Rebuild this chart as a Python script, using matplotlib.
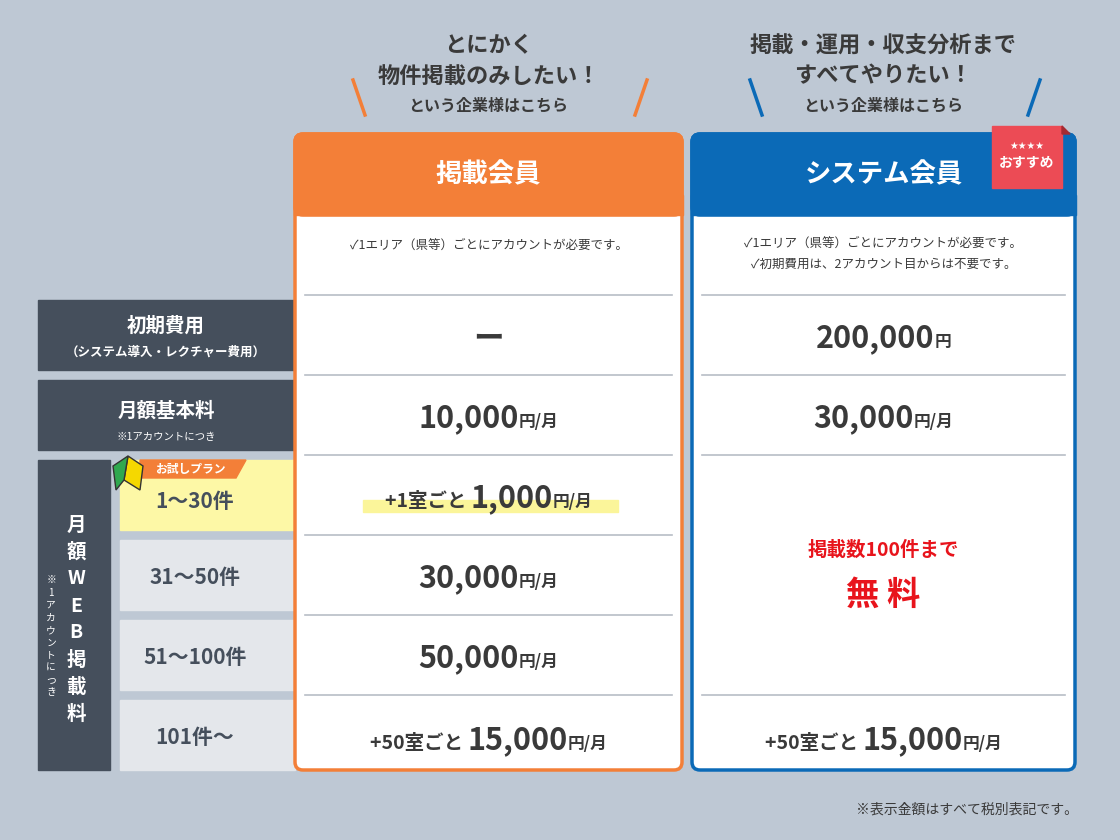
import matplotlib.pyplot as plt
from matplotlib.patches import FancyBboxPatch, Rectangle, Polygon

plt.rcParams['font.family'] = ['Noto Sans CJK JP', 'DejaVu Sans']

BG = '#bec8d4'
DARK = '#454f5c'
TXT = '#3a3a3a'
ORANGE = '#f37f38'
BLUE = '#0b6ab7'
RED = '#e8141c'

plans = ['掲載会員', 'システム会員']
plan_colors = [ORANGE, BLUE]
plan_leads = [['とにかく', '物件掲載のみしたい！', 'という企業様はこちら'],
              ['掲載・運用・収支分析まで', 'すべてやりたい！', 'という企業様はこちら']]
plan_notes = [['✓1エリア（県等）ごとにアカウントが必要です。'],
              ['✓1エリア（県等）ごとにアカウントが必要です。', '✓初期費用は、2アカウント目からは不要です。']]
tier_labels = ['1〜30件', '31〜50件', '51〜100件', '101件〜']
# (prefix, amount, unit)
member_prices = [('', 'ー', ''), ('', '10,000', '円/月'), ('+1室ごと ', '1,000', '円/月'),
                 ('', '30,000', '円/月'), ('', '50,000', '円/月'), ('+50室ごと ', '15,000', '円/月')]
system_prices = [('', '200,000', '円'), ('', '30,000', '円/月'), None, None, None,
                 ('+50室ごと ', '15,000', '円/月')]
free_text = ['掲載数100件まで', '無 料']

fig = plt.figure(figsize=(11.2, 8.4), dpi=100)
fig.patch.set_facecolor(BG)
ax = fig.add_axes([0, 0, 1, 1])
ax.set_xlim(0, 1120)
ax.set_ylim(840, 0)
ax.axis('off')
renderer = fig.canvas.get_renderer()


def rich(x, y, parts):
    # parts: (text, size, color); centred on x, on a common baseline y
    items = []
    for s, size, color in parts:
        if not s:
            continue
        t = ax.text(0, y, s, fontsize=size, color=color, fontweight='bold', va='baseline', ha='left')
        w = t.get_window_extent(renderer).width
        items.append((t, w))
    total = sum(w for _, w in items)
    cur = x - total / 2
    for t, w in items:
        t.set_x(cur)
        cur += w


# left header cells
ax.add_patch(Rectangle((38, 300), 257, 70, color=DARK))
ax.text(166, 326, '初期費用', color='white', fontsize=14, fontweight='bold', ha='center', va='center')
ax.text(166, 352, '（システム導入・レクチャー費用）', color='white', fontsize=9, fontweight='bold', ha='center', va='center')
ax.add_patch(Rectangle((38, 380), 257, 70, color=DARK))
ax.text(166, 411, '月額基本料', color='white', fontsize=14, fontweight='bold', ha='center', va='center')
ax.text(166, 437, '※1アカウントにつき', color='white', fontsize=7.5, ha='center', va='center')
ax.add_patch(Rectangle((38, 460), 72, 310, color=DARK))
for i, ch in enumerate('月額WEB掲載料'):
    ax.text(76, 525 + i * 27, ch, color='white', fontsize=14, fontweight='bold', ha='center', va='center')
for i, ch in enumerate('※1アカウントにつき'):
    ax.text(51, 580 + i * 12.5, ch, color='white', fontsize=7, ha='center', va='center')

for i, lab in enumerate(tier_labels):
    y0 = 460 + i * 80
    ax.add_patch(Rectangle((120, y0), 175, 70, color='#fdf8a6' if i == 0 else '#e4e7eb'))
    ax.text(195, y0 + 38 if i else y0 + 42, lab, color=DARK, fontsize=15, fontweight='bold', ha='center', va='center')
# trial tag + beginner mark
ax.add_patch(Polygon([(140, 460), (246, 460), (236, 478), (140, 478)], color=ORANGE))
ax.text(190, 469, 'お試しプラン', color='white', fontsize=8.5, fontweight='bold', ha='center', va='center')
ax.add_patch(Polygon([(128, 456), (143, 466), (140, 490), (124, 480)], color='#f5d800', ec='#333', lw=1))
ax.add_patch(Polygon([(128, 456), (113, 466), (116, 490), (124, 480)], color='#2fa84f', ec='#333', lw=1))

# plan cards
for k, (x0, x1) in enumerate([(295, 682), (692, 1075)]):
    c = plan_colors[k]
    ax.add_patch(FancyBboxPatch((x0, 134), x1 - x0, 636, boxstyle='round,pad=0,rounding_size=8',
                                fc='white', ec=c, lw=2.5))
    ax.add_patch(FancyBboxPatch((x0, 134), x1 - x0, 81, boxstyle='round,pad=0,rounding_size=8',
                                fc=c, ec=c, lw=2.5))
    ax.add_patch(Rectangle((x0 - 1, 195), x1 - x0 + 2, 20, color=c))
    cx = (x0 + x1) / 2
    ax.text(cx, 175, plans[k], color='white', fontsize=19, fontweight='bold', ha='center', va='center')
    notes = plan_notes[k]
    for j, n in enumerate(notes):
        ax.text(cx, 245 + j * 21 - (0 if len(notes) == 1 else 2), n, color=TXT, fontsize=9, ha='center', va='center')
    for yl in [295, 375, 455, 535, 615, 695]:
        if k == 1 and yl in (535, 615):
            continue
        ax.plot([x0 + 10, x1 - 10], [yl, yl], color='#b8bec6', lw=1.2)
    lead = plan_leads[k]
    ax.text(cx, 46, lead[0], color=TXT, fontsize=16, fontweight='bold', ha='center', va='center')
    ax.text(cx, 76, lead[1], color=TXT, fontsize=16, fontweight='bold', ha='center', va='center')
    ax.text(cx, 106, lead[2], color=TXT, fontsize=11.5, fontweight='bold', ha='center', va='center')
    ax.plot([x0 + 58, x0 + 70], [80, 115], color=c, lw=2.5)
    ax.plot([x1 - 35, x1 - 47], [80, 115], color=c, lw=2.5)

# highlight under trial price
ax.add_patch(Rectangle((363, 500), 255, 12, color='#fbf59a'))

row_y = [347, 427, 507, 587, 667, 749]
for prices, cx in [(member_prices, 488.5), (system_prices, 883.5)]:
    for p, y in zip(prices, row_y):
        if p is None:
            continue
        pre, amt, unit = p
        rich(cx, y, [(pre, 14, TXT), (amt, 22, TXT), (unit, 12, TXT)])
ax.text(883.5, 550, free_text[0], color=RED, fontsize=14, fontweight='bold', ha='center', va='center')
ax.text(883.5, 595, free_text[1], color=RED, fontsize=24, fontweight='bold', ha='center', va='center')

# recommend badge
ax.add_patch(Rectangle((992, 126), 70, 62, color='#ec4b55'))
ax.add_patch(Polygon([(1062, 126), (1070, 134), (1062, 134)], color='#a52a31'))
ax.text(1027, 146, '★★★★', color='white', fontsize=7, ha='center', va='center', family=['DejaVu Sans'])
ax.text(1027, 163, 'おすすめ', color='white', fontsize=10, fontweight='bold', ha='center', va='center')

ax.text(1078, 810, '※表示金額はすべて税別表記です。', color=TXT, fontsize=10, ha='right', va='center')

fig.savefig('out.png', dpi=100, facecolor=BG)
